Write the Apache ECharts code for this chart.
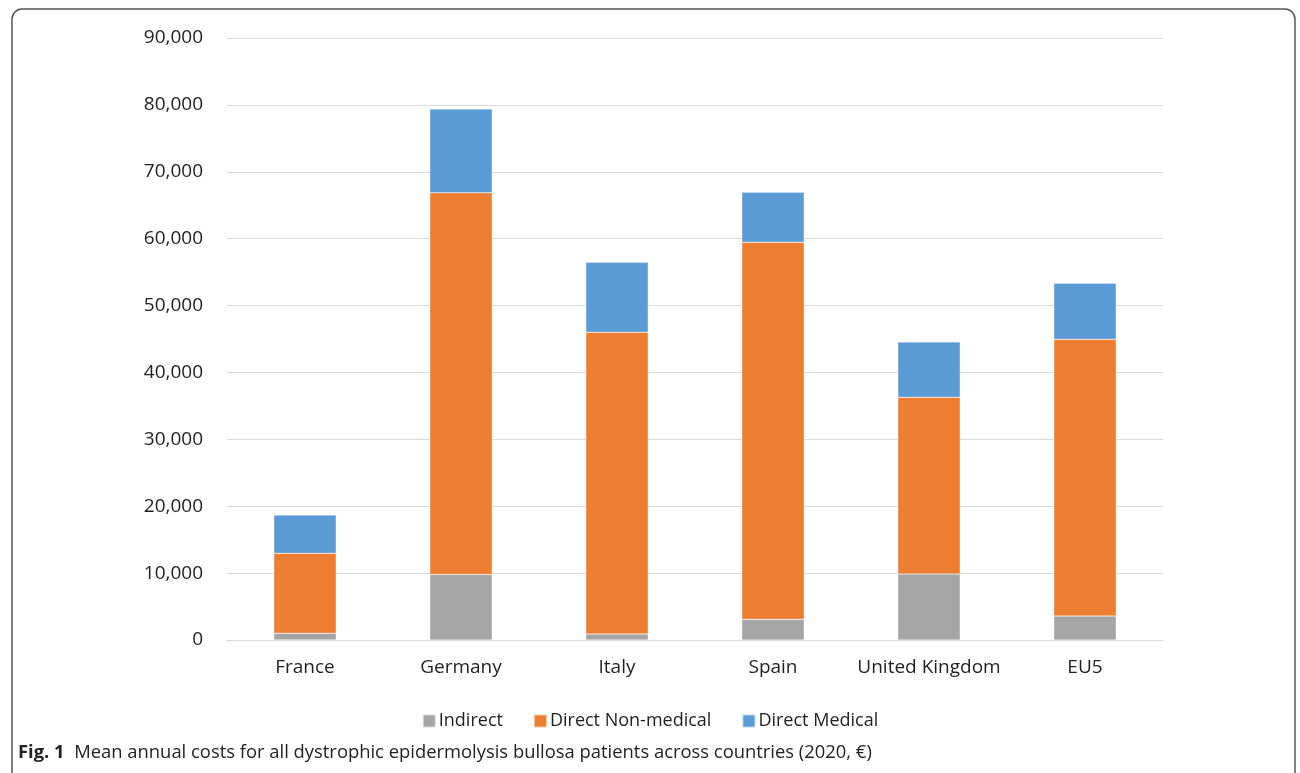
<!DOCTYPE html>
<html>
<head>
<meta charset="utf-8">
<script src="https://cdn.jsdelivr.net/npm/echarts@6/dist/echarts.min.js"></script>
<style>
  html, body { margin: 0; padding: 0; background: #fff; }
  #chart { width: 1300px; height: 773px; }
</style>
</head>
<body>
<div id="chart"></div>
<script>
// Mean annual cost per patient, 2020, in euros
const countries = ['France', 'Germany', 'Italy', 'Spain', 'United Kingdom', 'EU5'];
const indirect = [1000, 9800, 900, 3090, 9870, 3590];
const directNonMedical = [11960, 57070, 45100, 56370, 26410, 41360];
const directMedical = [5730, 12510, 10460, 7470, 8270, 8380];
const seriesNames = ['Indirect', 'Direct Non-medical', 'Direct Medical'];
const colors = ['#A5A5A5', '#ED7D31', '#5B9BD5'];

const font = '"Open Sans", "Noto Sans", sans-serif';
const textColor = '#1f1f1f';
const chart = echarts.init(document.getElementById('chart'), null, { renderer: 'canvas' });

function barSeries(name, data, color) {
  return {
    name: name,
    type: 'bar',
    stack: 'cost',
    data: data,
    barWidth: '40%',
    itemStyle: { color: color, borderColor: 'rgba(255,255,255,0.6)', borderWidth: 0.5 },
    emphasis: { disabled: true }
  };
}

chart.setOption({
  animation: false,
  color: colors,
  title: {
    left: 13,
    top: 739,
    text: '{b|Fig. 1}  Mean annual costs for all dystrophic epidermolysis bullosa patients across countries (2020, €)',
    textStyle: {
      fontFamily: font,
      fontSize: 18.4,
      fontWeight: 'normal',
      color: '#222',
      rich: {
        b: { fontFamily: font, fontSize: 18.4, fontWeight: 'bold', color: '#222' }
      }
    }
  },
  legend: {
    data: seriesNames,
    left: 'center',
    top: 707,
    itemWidth: 13,
    itemHeight: 13,
    itemGap: 30,
    icon: 'rect',
    textStyle: { fontFamily: font, fontSize: 18, color: textColor, padding: [0, 0, 0, -2] }
  },
  grid: { left: 227, right: 137, top: 38, bottom: 133, containLabel: false },
  xAxis: {
    type: 'category',
    data: countries,
    axisLine: { show: true, lineStyle: { color: '#D9D9D9', width: 1 } },
    axisTick: { show: false },
    axisLabel: { interval: 0, fontFamily: font, fontSize: 19, color: textColor, margin: 18 }
  },
  yAxis: {
    type: 'value',
    min: 0,
    max: 90000,
    interval: 10000,
    axisLine: { show: false },
    axisTick: { show: false },
    splitLine: { lineStyle: { color: '#D9D9D9', width: 1 } },
    axisLabel: {
      fontFamily: font,
      fontSize: 19,
      color: textColor,
      margin: 24,
      formatter: v => v.toLocaleString('en-US')
    }
  },
  graphic: [{
    type: 'rect',
    shape: { x: 12, y: 9, width: 1283, height: 790, r: [10, 10, 0, 0] },
    style: { fill: 'none', stroke: '#555', lineWidth: 1.5 },
    silent: true
  }],
  series: [
    barSeries(seriesNames[0], indirect, colors[0]),
    barSeries(seriesNames[1], directNonMedical, colors[1]),
    barSeries(seriesNames[2], directMedical, colors[2])
  ]
});
</script>
</body>
</html>
